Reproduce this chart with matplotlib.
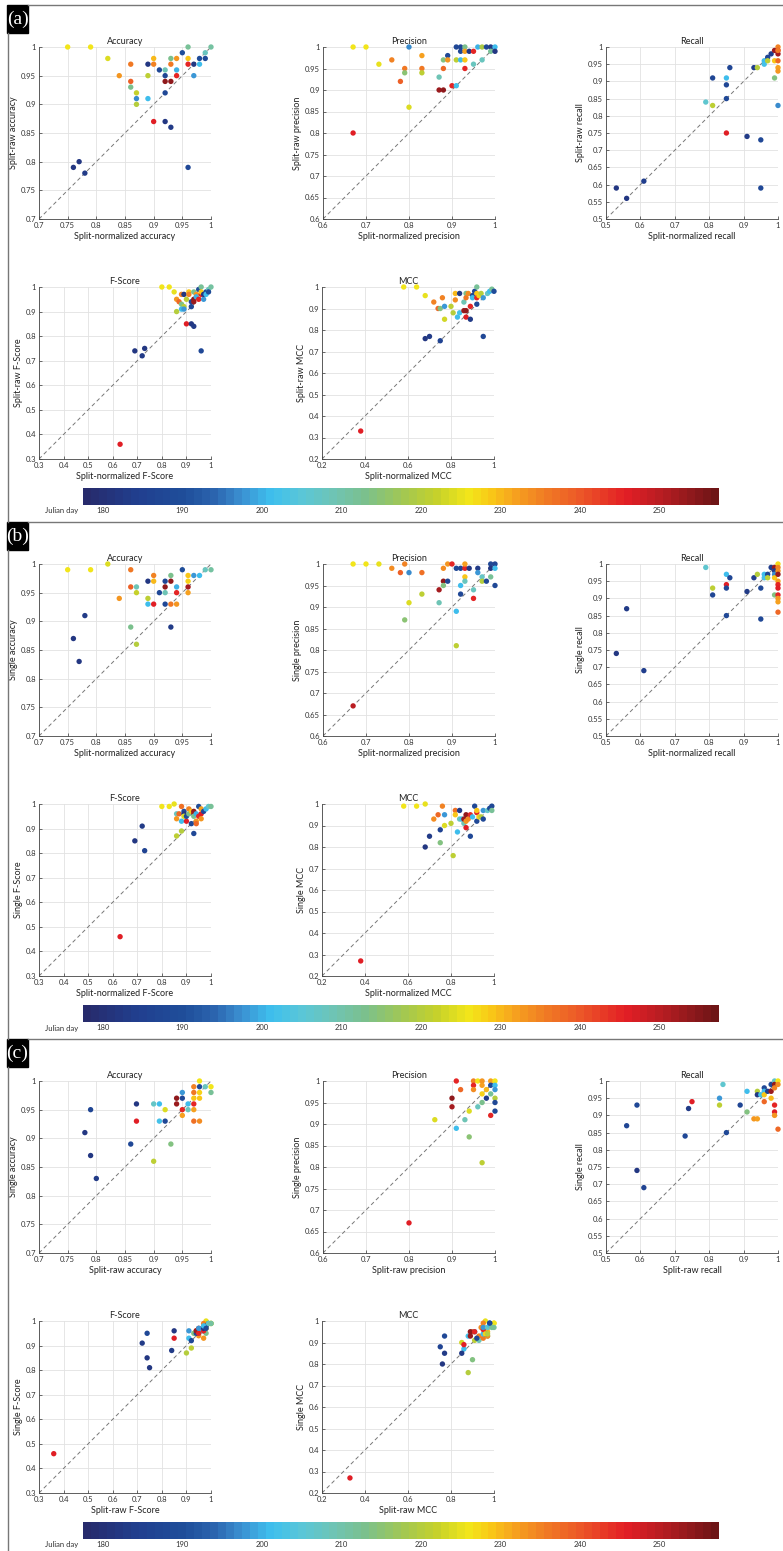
import numpy as np
import matplotlib
matplotlib.use('Agg')
import matplotlib.pyplot as plt
from matplotlib.colors import LinearSegmentedColormap, Normalize
from matplotlib.cm import ScalarMappable
from matplotlib.lines import Line2D
from matplotlib.patches import Rectangle
from matplotlib.ticker import FuncFormatter

plt.rcParams['font.family'] = ['Lato', 'DejaVu Sans']

# ---- (a) split-normalized vs split-raw ----
a_acc_x = [0.75, 0.79, 0.82, 0.84, 0.86, 0.86, 0.86, 0.87, 0.87, 0.87, 0.89, 0.89, 0.89, 0.90, 0.90,
           0.90, 0.91, 0.92, 0.92, 0.92, 0.92, 0.92, 0.93, 0.93, 0.93, 0.93, 0.94, 0.94, 0.94, 0.95,
           0.96, 0.96, 0.96, 0.96, 0.97, 0.97, 0.98, 0.98, 0.99, 0.99, 1.00, 0.76, 0.77, 0.78]
a_acc_y = [1.00, 1.00, 0.98, 0.95, 0.97, 0.94, 0.93, 0.92, 0.91, 0.90, 0.97, 0.95, 0.91, 0.98, 0.97,
           0.87, 0.96, 0.96, 0.95, 0.94, 0.92, 0.87, 0.98, 0.97, 0.94, 0.86, 0.98, 0.96, 0.95, 0.99,
           1.00, 0.98, 0.97, 0.79, 0.97, 0.95, 0.98, 0.97, 0.99, 0.98, 1.00, 0.79, 0.80, 0.78]
a_acc_day = [226, 226, 224, 233, 236, 239, 213, 222, 197, 220, 182, 221, 201, 230, 235,
             246, 188, 209, 187, 254, 188, 182, 213, 236, 254, 183, 233, 200, 245, 190,
             212, 229, 245, 188, 182, 198, 189, 201, 208, 189, 211, 182, 182, 183]

a_prec_x = [0.67, 0.70, 0.73, 0.76, 0.78, 0.79, 0.79, 0.80, 0.80, 0.83, 0.83, 0.83, 0.87, 0.87,
            0.88, 0.88, 0.88, 0.89, 0.89, 0.90, 0.91, 0.91, 0.92, 0.93, 0.92, 0.93, 0.94, 0.95,
            0.91, 0.92, 0.93, 0.93, 0.95, 0.96, 0.97, 0.98, 0.99, 1.00, 0.97, 0.99, 1.00, 0.67]
a_prec_y = [1.00, 1.00, 0.96, 0.97, 0.92, 0.95, 0.94, 1.00, 0.86, 0.98, 0.95, 0.94, 0.93, 0.90,
            0.90, 0.97, 0.95, 0.98, 0.97, 0.91, 0.91, 1.00, 1.00, 1.00, 0.99, 0.99, 0.99, 0.99,
            0.97, 0.97, 0.97, 0.95, 0.96, 1.00, 1.00, 1.00, 1.00, 1.00, 0.97, 0.99, 0.99, 0.80]
a_prec_day = [226, 226, 225, 235, 239, 236, 215, 197, 224, 232, 236, 221, 209, 253,
              254, 214, 238, 188, 233, 245, 202, 188, 187, 213, 188, 232, 182, 245,
              221, 201, 229, 245, 208, 200, 219, 188, 183, 201, 208, 212, 182, 246]

a_rec_x = [0.53, 0.56, 0.61, 0.79, 0.81, 0.81, 0.85, 0.85, 0.85, 0.85, 0.86, 0.91, 0.93, 0.94,
           0.95, 0.95, 0.96, 0.96, 0.97, 0.97, 0.98, 0.99, 0.99, 0.99, 1.00, 1.00, 1.00, 1.00,
           1.00, 1.00, 1.00, 1.00]
a_rec_y = [0.59, 0.56, 0.61, 0.84, 0.91, 0.83, 0.91, 0.89, 0.85, 0.75, 0.94, 0.74, 0.94, 0.94,
           0.73, 0.59, 0.96, 0.95, 0.97, 0.96, 0.98, 0.99, 0.96, 0.91, 1.00, 0.99, 0.98, 0.96,
           0.94, 0.93, 0.83, 0.99]
a_rec_day = [182, 182, 184, 206, 187, 221, 201, 187, 188, 246, 187, 183, 184, 220,
             188, 188, 201, 202, 188, 221, 184, 253, 229, 214, 235, 245, 252, 238,
             232, 233, 197, 236]

a_f_x = [0.80, 0.83, 0.85, 0.86, 0.87, 0.88, 0.88, 0.89, 0.88, 0.86, 0.89, 0.90, 0.89, 0.91,
         0.91, 0.90, 0.92, 0.92, 0.92, 0.93, 0.93, 0.93, 0.93, 0.94, 0.94, 0.95, 0.95, 0.96,
         0.96, 0.96, 0.96, 0.97, 0.97, 0.98, 0.98, 0.99, 0.99, 1.00, 0.69, 0.72, 0.73, 0.63]
a_f_y = [1.00, 1.00, 0.98, 0.95, 0.94, 0.97, 0.93, 0.92, 0.91, 0.90, 0.97, 0.95, 0.91, 0.98,
         0.97, 0.85, 0.94, 0.92, 0.85, 0.84, 0.98, 0.95, 0.94, 0.97, 0.96, 0.99, 0.95, 1.00,
         0.97, 0.98, 0.74, 0.95, 0.97, 0.98, 0.97, 0.99, 0.98, 1.00, 0.74, 0.72, 0.75, 0.36]
a_f_day = [226, 226, 225, 233, 238, 235, 214, 221, 201, 220, 182, 221, 198, 229,
           235, 246, 187, 188, 182, 183, 213, 254, 253, 233, 200, 190, 245, 212,
           245, 229, 188, 198, 182, 189, 201, 208, 189, 211, 182, 183, 182, 246]

a_mcc_x = [0.58, 0.64, 0.68, 0.72, 0.74, 0.75, 0.76, 0.77, 0.77, 0.80, 0.81, 0.82, 0.82, 0.83,
           0.84, 0.84, 0.86, 0.86, 0.87, 0.87, 0.87, 0.87, 0.88, 0.89, 0.89, 0.90, 0.90, 0.91,
           0.92, 0.92, 0.92, 0.92, 0.93, 0.94, 0.95, 0.95, 0.97, 0.98, 0.99, 1.00, 0.68, 0.70,
           0.75, 0.38]
a_mcc_y = [1.00, 1.00, 0.96, 0.93, 0.90, 0.90, 0.95, 0.91, 0.85, 0.91, 0.88, 0.97, 0.94, 0.86,
           0.97, 0.88, 0.93, 0.89, 0.89, 0.97, 0.95, 0.86, 0.97, 0.91, 0.85, 0.96, 0.95, 0.98,
           1.00, 0.97, 0.95, 0.92, 0.96, 0.97, 0.95, 0.77, 0.97, 0.98, 0.99, 0.98, 0.76, 0.77,
           0.75, 0.33]
a_mcc_day = [226, 226, 225, 235, 238, 214, 235, 198, 223, 221, 220, 230, 234, 201,
             183, 202, 209, 253, 254, 213, 236, 246, 234, 245, 183, 187, 201, 188,
             212, 229, 245, 188, 228, 220, 198, 188, 207, 201, 212, 189, 182, 183,
             186, 246]

# ---- (b) split-normalized vs single ----
b_acc_x = [0.75, 0.79, 0.82, 0.84, 0.86, 0.86, 0.86, 0.87, 0.87, 0.87, 0.89, 0.89, 0.89, 0.90,
           0.90, 0.90, 0.91, 0.92, 0.92, 0.92, 0.92, 0.93, 0.93, 0.93, 0.93, 0.94, 0.94, 0.94,
           0.95, 0.96, 0.96, 0.96, 0.96, 0.97, 0.98, 0.99, 1.00, 0.76, 0.77, 0.78]
b_acc_y = [0.99, 0.99, 1.00, 0.94, 0.99, 0.96, 0.89, 0.96, 0.95, 0.86, 0.97, 0.94, 0.93, 0.98,
           0.97, 0.93, 0.95, 0.97, 0.96, 0.95, 0.93, 0.98, 0.97, 0.93, 0.89, 0.96, 0.95, 0.93,
           0.99, 0.98, 0.97, 0.96, 0.95, 0.98, 0.98, 0.99, 0.99, 0.87, 0.83, 0.91]
b_acc_day = [226, 226, 224, 233, 236, 239, 213, 209, 222, 220, 182, 221, 201, 235,
             230, 246, 188, 187, 254, 209, 188, 213, 254, 236, 183, 200, 245, 233,
             190, 229, 228, 252, 232, 198, 201, 208, 211, 182, 182, 183]

b_prec_x = [0.67, 0.70, 0.73, 0.76, 0.78, 0.79, 0.80, 0.83, 0.79, 0.80, 0.83, 0.87, 0.87, 0.88,
            0.88, 0.88, 0.89, 0.89, 0.90, 0.91, 0.92, 0.93, 0.93, 0.94, 0.92, 0.92, 0.93, 0.93,
            0.91, 0.91, 0.95, 0.95, 0.96, 0.96, 0.97, 0.97, 0.98, 0.99, 1.00, 0.99, 1.00, 0.99,
            1.00, 0.67]
b_prec_y = [1.00, 1.00, 1.00, 0.99, 0.98, 1.00, 0.98, 0.98, 0.87, 0.91, 0.93, 0.94, 0.91, 0.96,
            0.95, 0.99, 1.00, 0.96, 1.00, 0.99, 0.99, 0.99, 1.00, 0.99, 0.95, 0.93, 0.97, 0.96,
            0.89, 0.81, 0.94, 0.92, 0.99, 0.98, 0.97, 0.96, 0.96, 1.00, 1.00, 0.99, 0.99, 0.97,
            0.95, 0.67]
b_prec_day = [226, 226, 225, 234, 239, 235, 197, 237, 215, 224, 221, 252, 209, 254,
              214, 234, 233, 188, 245, 188, 187, 245, 232, 182, 201, 188, 229, 208,
              201, 221, 208, 245, 183, 198, 207, 220, 188, 188, 187, 182, 201, 212,
              188, 250]

b_rec_x = [0.53, 0.56, 0.61, 0.79, 0.81, 0.81, 0.85, 0.85, 0.85, 0.85, 0.86, 0.91, 0.93, 0.94,
           0.95, 0.95, 0.96, 0.96, 0.97, 0.97, 0.98, 0.99, 0.99, 0.99, 0.99, 0.99, 1.00, 1.00,
           1.00, 1.00, 1.00, 1.00, 1.00, 1.00, 1.00, 1.00, 1.00]
b_rec_y = [0.74, 0.87, 0.69, 0.99, 0.93, 0.91, 0.97, 0.94, 0.93, 0.85, 0.96, 0.92, 0.96, 0.97,
           0.93, 0.84, 0.97, 0.96, 0.97, 0.96, 0.99, 0.99, 0.98, 0.97, 0.96, 0.91, 1.00, 0.99,
           0.98, 0.97, 0.95, 0.94, 0.93, 0.91, 0.90, 0.89, 0.86]
b_rec_day = [182, 183, 184, 206, 221, 187, 201, 246, 187, 188, 187, 183, 184, 220,
             188, 188, 201, 202, 188, 221, 184, 253, 183, 197, 229, 214, 227, 235,
             234, 253, 232, 245, 246, 245, 233, 232, 238]

b_f_x = [0.80, 0.83, 0.85, 0.88, 0.86, 0.87, 0.86, 0.88, 0.89, 0.89, 0.89, 0.88, 0.86, 0.90,
         0.90, 0.91, 0.91, 0.92, 0.92, 0.93, 0.93, 0.93, 0.93, 0.94, 0.94, 0.94, 0.95, 0.95,
         0.96, 0.96, 0.96, 0.97, 0.98, 0.99, 1.00, 0.69, 0.72, 0.73, 0.63]
b_f_y = [0.99, 0.99, 1.00, 0.99, 0.96, 0.96, 0.94, 0.93, 0.97, 0.96, 0.95, 0.89, 0.87, 0.93,
         0.95, 0.98, 0.96, 0.97, 0.92, 0.97, 0.96, 0.95, 0.88, 0.93, 0.92, 0.96, 0.99, 0.95,
         0.96, 0.98, 0.94, 0.97, 0.98, 0.99, 0.99, 0.85, 0.91, 0.81, 0.46]
b_f_day = [226, 226, 225, 237, 208, 238, 233, 201, 188, 182, 224, 220, 221, 246,
           189, 235, 213, 229, 188, 254, 253, 213, 188, 233, 238, 200, 190, 245,
           246, 232, 233, 188, 201, 207, 212, 182, 183, 186, 246]

b_mcc_x = [0.58, 0.64, 0.68, 0.72, 0.74, 0.76, 0.77, 0.77, 0.80, 0.75, 0.81, 0.82, 0.82, 0.83,
           0.84, 0.84, 0.85, 0.86, 0.86, 0.87, 0.87, 0.87, 0.88, 0.89, 0.89, 0.90, 0.91, 0.92,
           0.92, 0.92, 0.93, 0.94, 0.95, 0.95, 0.97, 0.98, 0.99, 0.99, 0.68, 0.70, 0.75, 0.38]
b_mcc_y = [0.99, 0.99, 1.00, 0.93, 0.95, 0.99, 0.95, 0.90, 0.91, 0.82, 0.76, 0.97, 0.95, 0.87,
           0.97, 0.93, 0.93, 0.91, 0.93, 0.95, 0.92, 0.89, 0.93, 0.95, 0.85, 0.94, 0.99, 0.96,
           0.97, 0.92, 0.94, 0.94, 0.97, 0.93, 0.97, 0.98, 0.99, 0.97, 0.80, 0.85, 0.88, 0.27]
b_mcc_day = [226, 226, 225, 234, 238, 235, 198, 224, 221, 214, 221, 237, 229, 201,
             183, 208, 202, 209, 253, 254, 233, 246, 234, 245, 188, 201, 188, 245,
             229, 188, 228, 220, 198, 188, 207, 189, 188, 212, 182, 183, 186, 246]

# ---- (c) split-raw vs single ----
c_acc_x = [0.78, 0.79, 0.79, 0.80, 0.86, 0.87, 0.87, 0.90, 0.90, 0.91, 0.91, 0.92, 0.92, 0.93,
           0.94, 0.94, 0.95, 0.95, 0.95, 0.95, 0.96, 0.96, 0.97, 0.97, 0.97, 0.97, 0.97, 0.97,
           0.98, 0.98, 0.98, 0.98, 0.98, 0.99, 1.00, 1.00]
c_acc_y = [0.91, 0.95, 0.87, 0.83, 0.89, 0.96, 0.93, 0.96, 0.86, 0.96, 0.93, 0.95, 0.93, 0.89,
           0.97, 0.96, 0.98, 0.97, 0.95, 0.94, 0.96, 0.95, 0.99, 0.98, 0.97, 0.96, 0.95, 0.93,
           1.00, 0.99, 0.98, 0.97, 0.93, 0.99, 0.99, 0.98]
c_acc_day = [182, 187, 182, 183, 188, 182, 246, 207, 221, 201, 202, 224, 188, 214,
             254, 253, 198, 188, 245, 232, 201, 208, 235, 236, 229, 245, 232, 237,
             226, 189, 228, 229, 234, 208, 226, 212]

c_prec_x = [0.80, 0.86, 0.90, 0.90, 0.91, 0.91, 0.92, 0.93, 0.94, 0.94, 0.95, 0.95, 0.95, 0.96,
            0.96, 0.97, 0.97, 0.97, 0.97, 0.97, 0.98, 0.98, 0.99, 0.99, 0.99, 0.99, 1.00, 1.00,
            1.00, 1.00, 1.00, 1.00]
c_prec_y = [0.67, 0.91, 0.96, 0.94, 1.00, 0.89, 0.98, 0.91, 0.93, 0.87, 1.00, 0.99, 0.98, 1.00,
            0.94, 1.00, 0.99, 0.97, 0.95, 0.81, 0.98, 0.96, 1.00, 0.99, 0.97, 0.92, 1.00, 0.99,
            0.98, 0.96, 0.95, 0.93]
c_prec_day = [246, 224, 254, 252, 245, 201, 238, 209, 224, 215, 235, 245, 234, 226,
              208, 233, 232, 228, 213, 221, 230, 183, 232, 188, 212, 245, 226, 201,
              198, 220, 188, 188]

c_rec_x = [0.56, 0.59, 0.59, 0.61, 0.73, 0.74, 0.75, 0.83, 0.83, 0.84, 0.85, 0.89, 0.91, 0.91,
           0.93, 0.94, 0.94, 0.94, 0.95, 0.96, 0.96, 0.96, 0.96, 0.97, 0.98, 0.98, 0.98, 0.99,
           0.99, 0.99, 0.99, 0.99, 0.99, 1.00, 1.00, 1.00]
c_rec_y = [0.87, 0.93, 0.74, 0.69, 0.84, 0.92, 0.94, 0.95, 0.93, 0.99, 0.85, 0.93, 0.97, 0.91,
           0.89, 0.89, 0.97, 0.96, 0.96, 0.98, 0.97, 0.96, 0.94, 0.97, 0.99, 0.97, 0.95, 1.00,
           0.99, 0.98, 0.93, 0.91, 0.90, 1.00, 0.99, 0.86]
c_rec_day = [187, 188, 182, 186, 188, 183, 246, 198, 221, 206, 188, 187, 201, 214,
             233, 232, 220, 182, 202, 188, 201, 229, 238, 184, 188, 253, 230, 207,
             254, 235, 245, 246, 233, 226, 234, 238]

# split-raw F-score / MCC are the y values of panel (a)
c_f_x = a_f_y
c_f_y = [0.99, 0.99, 1.00, 0.94, 0.96, 0.99, 0.95, 0.89, 0.93, 0.87, 0.96, 0.95, 0.96, 0.97,
         0.98, 0.93, 0.95, 0.92, 0.96, 0.88, 0.95, 0.97, 0.96, 0.93, 0.96, 0.99, 0.95, 0.99,
         0.96, 0.98, 0.95, 0.97, 0.97, 0.98, 0.98, 0.99, 0.97, 0.99, 0.85, 0.91, 0.81, 0.46]
c_f_day = a_f_day

c_mcc_x = a_mcc_y
c_mcc_y = [0.99, 0.99, 1.00, 0.93, 0.95, 0.82, 0.99, 0.95, 0.90, 0.91, 0.76, 0.95, 0.97, 0.87,
           0.97, 0.93, 0.91, 0.93, 0.95, 0.93, 0.92, 0.89, 0.93, 0.95, 0.85, 0.94, 0.94, 0.99,
           0.97, 0.97, 0.96, 0.92, 0.94, 0.94, 0.97, 0.93, 0.97, 0.98, 0.97, 0.99, 0.80, 0.85,
           0.88, 0.27]
c_mcc_day = a_mcc_day

day_ticks = [180, 190, 200, 210, 220, 230, 240, 250]
day_min, day_max = 177.5, 257.5

panels = [
    ('a', 'Split-normalized', 'Split-raw',
     [(a_acc_x, a_acc_y, a_acc_day), (a_prec_x, a_prec_y, a_prec_day), (a_rec_x, a_rec_y, a_rec_day),
      (a_f_x, a_f_y, a_f_day), (a_mcc_x, a_mcc_y, a_mcc_day)]),
    ('b', 'Split-normalized', 'Single',
     [(b_acc_x, b_acc_y, b_acc_day), (b_prec_x, b_prec_y, b_prec_day), (b_rec_x, b_rec_y, b_rec_day),
      (b_f_x, b_f_y, b_f_day), (b_mcc_x, b_mcc_y, b_mcc_day)]),
    ('c', 'Split-raw', 'Single',
     [(c_acc_x, c_acc_y, c_acc_day), (c_prec_x, c_prec_y, c_prec_day), (c_rec_x, c_rec_y, c_rec_day),
      (c_f_x, c_f_y, c_f_day), (c_mcc_x, c_mcc_y, c_mcc_day)]),
]

# title, axis word, lower limit, x tick step, y tick step, axes box in pixels (left, top, right, bottom)
metrics = [
    ('Accuracy', 'accuracy', 0.7, 0.05, 0.05, (39, 47, 211, 219)),
    ('Precision', 'precision', 0.6, 0.1, 0.05, (323, 47, 495, 219)),
    ('Recall', 'recall', 0.5, 0.1, 0.05, (606, 47, 778, 219)),
    ('F-Score', 'F-Score', 0.3, 0.1, 0.1, (39, 287, 211, 459)),
    ('MCC', 'MCC', 0.2, 0.2, 0.1, (322, 287, 494, 459)),
]

# MATLAB-like jet/parula blend, one colour per day
stops = [(177.5, '#272b6c'), (184, '#213f8f'), (190, '#1f4e9a'), (194, '#2c66b0'), (197, '#3a8ed0'),
         (201, '#3ec0ee'), (205, '#5bc6d6'), (209, '#6fc4b4'), (213, '#7bc08c'), (218, '#a4c850'),
         (222, '#c5d12b'), (226, '#f2e61a'), (229, '#f9c817'), (232, '#f6a21f'), (236, '#f07a24'),
         (240, '#ec5a28'), (246, '#e31e25'), (251, '#b51d22'), (257.5, '#6e1516')]
cmap = LinearSegmentedColormap.from_list(
    'julian', [((d - day_min) / (day_max - day_min), c) for d, c in stops]).resampled(80)
norm = Normalize(day_min, day_max)

W, H = 783, 1551
fig = plt.figure(figsize=(W / 100, H / 100), dpi=100)


def px_axes(x0, y0, x1, y1):
    return fig.add_axes([x0 / W, 1 - y1 / H, (x1 - x0) / W, (y1 - y0) / H])


fmt = FuncFormatter(lambda v, _: f'{round(v, 2):g}')
PANEL_H = 517

for k, (tag, xname, yname, series) in enumerate(panels):
    off = k * PANEL_H

    # panel frame and tag
    fig.add_artist(Line2D([28 / W, 1], [1 - (off + 5) / H] * 2, color='#777777', lw=1))
    ybot = min(off + PANEL_H + 5, H)
    fig.add_artist(Line2D([8 / W] * 2, [1 - (off + 33) / H, 1 - ybot / H], color='#777777', lw=1))
    fig.add_artist(Rectangle((7 / W, 1 - (off + 33) / H), 21 / W, 28 / H,
                             transform=fig.transFigure, color='black'))
    fig.text(17.5 / W, 1 - (off + 19) / H, f'({tag})', color='white', ha='center', va='center',
             fontsize=14, family='Liberation Serif')

    for (title, word, lo, xs, ys, box), (x, y, day) in zip(metrics, series):
        l, t, r, b = box
        ax = px_axes(l, t + off, r, b + off)
        ax.plot([lo, 1], [lo, 1], ls=(0, (4, 3)), color='#777777', lw=0.7, zorder=2)
        ax.scatter(x, y, c=day, cmap=cmap, norm=norm, s=15, linewidths=0, zorder=3, clip_on=False)
        ax.set_xlim(lo, 1)
        ax.set_ylim(lo, 1)
        ax.set_xticks(np.round(np.arange(lo, 1.0001, xs), 2))
        ax.set_yticks(np.round(np.arange(lo, 1.0001, ys), 2))
        ax.xaxis.set_major_formatter(fmt)
        ax.yaxis.set_major_formatter(fmt)
        ax.grid(True, color='#e2e2e2', lw=0.6)
        ax.set_axisbelow(True)
        for s in ('top', 'right'):
            ax.spines[s].set_visible(False)
        for s in ('left', 'bottom'):
            ax.spines[s].set_color('#444444')
            ax.spines[s].set_linewidth(0.6)
        ax.tick_params(direction='in', length=2, width=0.5, labelsize=5.5, colors='#333333', pad=2)
        ax.set_title(title, fontsize=6.5, pad=2, color='#222222')
        ax.set_xlabel(f'{xname} {word}', fontsize=6.5, labelpad=2, color='#222222')
        ax.set_ylabel(f'{yname} {word}', fontsize=6.5, labelpad=2, color='#222222')

    # Julian day colour strip
    cax = px_axes(83, 488 + off, 719, 505 + off)
    cb = fig.colorbar(ScalarMappable(norm=norm, cmap=cmap), cax=cax, orientation='horizontal',
                      ticks=day_ticks)
    cb.outline.set_visible(False)
    cax.tick_params(length=0, labelsize=5.5, colors='#333333', pad=1.5)
    fig.text(78 / W, 1 - (511 + off) / H, 'Julian day', ha='right', va='center', fontsize=5.5,
             color='#333333')

fig.savefig('out.png', dpi=100)
